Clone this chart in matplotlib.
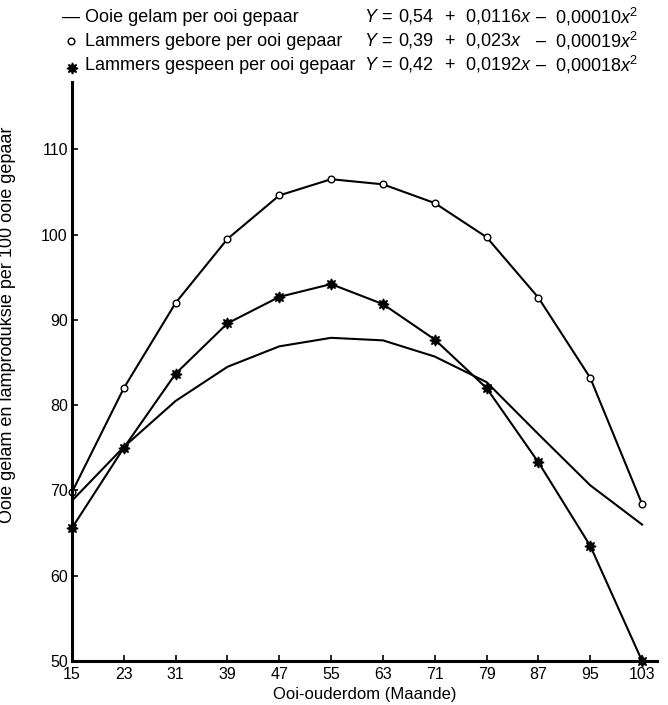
"""
Ooi-ouderdom vs lamproduksie - recreated figure.
Three curves: ewes lambed, lambs born and lambs weaned per 100 ewes mated.
"""

import matplotlib
matplotlib.use("Agg")
import matplotlib.pyplot as plt
from matplotlib.lines import Line2D

plt.rcParams["font.family"] = ["Liberation Sans", "DejaVu Sans"]
plt.rcParams["mathtext.fontset"] = "custom"
plt.rcParams["mathtext.rm"] = "Liberation Sans"
plt.rcParams["mathtext.it"] = "Liberation Sans:italic"

# ── Data ────────────────────────────────────────────────────────────────
months  = [15, 23, 31, 39, 47, 55, 63, 71, 79, 87, 95, 103]
gelam   = [68.8, 75.1, 80.5, 84.5, 86.9, 87.9, 87.6, 85.7, 82.7, 76.6, 70.6, 66.0]
gebore  = [69.8, 82.0, 92.0, 99.5, 104.6, 106.5, 105.9, 103.7, 99.7, 92.6, 83.2, 68.4]
gespeen = [65.6, 75.0, 83.7, 89.6, 92.7, 94.2, 91.85, 87.7, 82.0, 73.3, 63.5, 50.0]
y_ticks = [50, 60, 70, 80, 90, 100, 110]

labels = ["Ooie gelam per ooi gepaar",
          "Lammers gebore per ooi gepaar",
          "Lammers gespeen per ooi gepaar"]
eq_const = ["0,54", "0,39", "0,42"]
eq_lin   = ["0,0116", "0,023", "0,0192"]
eq_quad  = ["0,00010", "0,00019", "0,00018"]

W, H = 668, 705
fig = plt.figure(figsize=(W / 100, H / 100), dpi=100)
ax = fig.add_axes([72 / W, 1 - 661 / H, 585 / W, 579 / H])

LW = 1.5
STAR = (8, 1, 0)
ax.plot(months, gelam, "-", color="black", lw=LW)
ax.plot(months, gebore, "-", color="black", lw=LW, marker="o", ms=4.8,
        mfc="white", mec="black", mew=1.0, clip_on=False)
ax.plot(months, gespeen, "-", color="black", lw=LW, marker=STAR, ms=8,
        mfc="black", mec="black", clip_on=False)

ax.set_xlim(15, 105.3)
ax.set_ylim(50, 117.9)
ax.set_xticks(months)
ax.set_yticks(y_ticks)
for s in ["top", "right"]:
    ax.spines[s].set_visible(False)
for s in ["left", "bottom"]:
    ax.spines[s].set_linewidth(2.2)
ax.tick_params(direction="in", length=4, width=1.2, labelsize=11.5, pad=3)
ax.tick_params(axis="x", pad=4)

ax.set_xlabel("Ooi-ouderdom (Maande)", fontsize=12, labelpad=4)
ax.set_ylabel("Ooie gelam en lamproduksie per 100 ooie gepaar", fontsize=13)
ax.yaxis.set_label_coords(-0.095, 0.58)

# ── Legend with regression equations (top of figure) ────────────────────
px = lambda x, y: (x / W, 1 - y / H)
rows_y = [17, 41, 65]
FS = 13
for i, (lab, y) in enumerate(zip(labels, rows_y)):
    if i == 0:
        fig.text(*px(62, y), "—", fontsize=FS, va="center", ha="left")
    elif i == 1:
        fig.add_artist(Line2D([px(71, y)[0]], [px(71, y)[1]], marker="o",
                              ms=4.8, mfc="white", mec="black", mew=1.0,
                              transform=fig.transFigure))
    else:
        fig.add_artist(Line2D([px(72, y + 3)[0]], [px(72, y + 3)[1]],
                              marker=STAR, ms=8, color="black",
                              transform=fig.transFigure))
    fig.text(*px(85, y), lab, fontsize=FS, va="center", ha="left")
    # equation pieces placed in columns, as in the original
    fig.text(*px(364, y), r"$Y$", fontsize=FS, va="center", ha="left")
    fig.text(*px(381, y), "=", fontsize=FS, va="center", ha="left")
    fig.text(*px(398, y), eq_const[i], fontsize=FS, va="center", ha="left")
    fig.text(*px(444, y), "+", fontsize=FS, va="center", ha="left")
    fig.text(*px(465, y), eq_lin[i] + r"$x$", fontsize=FS, va="center", ha="left")
    fig.text(*px(536, y), "–", fontsize=FS, va="center", ha="left")
    fig.text(*px(555, y), eq_quad[i] + r"$x^2$", fontsize=FS,
             va="center", ha="left")

fig.savefig("out.png", dpi=100)
plt.close(fig)
